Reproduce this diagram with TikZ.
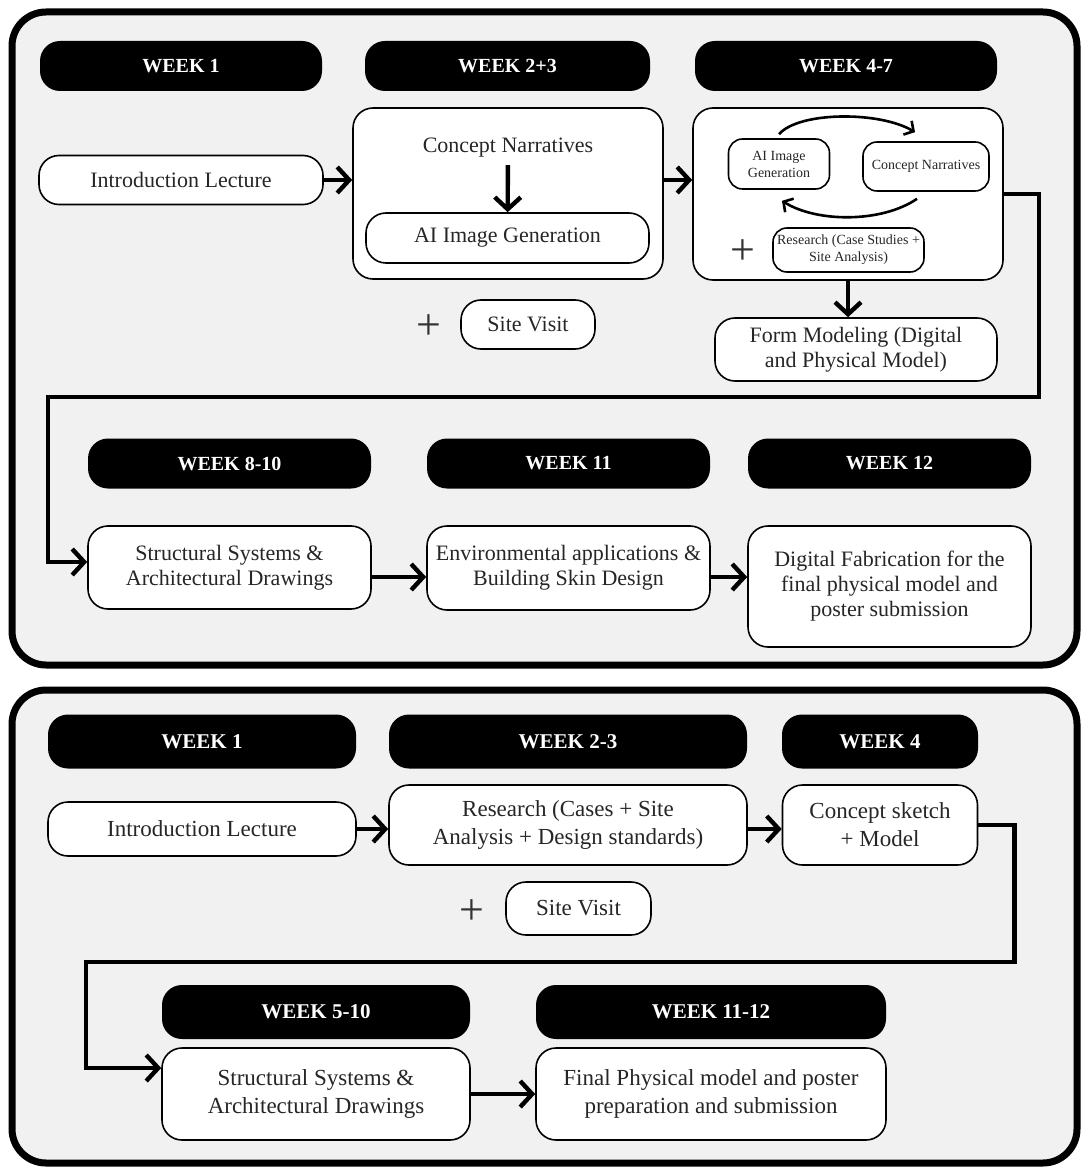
\documentclass[tikz,border=0pt]{standalone}
\usepackage{fontspec}
\setmainfont{Liberation Serif}
\usetikzlibrary{arrows.meta}

\begin{document}
\begin{tikzpicture}[x=0.5pt,y=-0.5pt,line width=.8pt,
	panel/.style={line width=3.5pt,rounded corners=17pt,fill=gray!11},
	week/.style={fill=black,text=white,rounded corners=10pt,inner sep=0pt,minimum height=25pt,font=\fontsize{10}{12}\selectfont\bfseries},
	weekL/.style={week,minimum height=27pt,font=\fontsize{10.5}{12}\selectfont\bfseries},
	stepbox/.style={draw,fill=white,rounded corners=10pt,align=center,inner sep=0pt,text=black!85,font=\fontsize{11}{12.5}\selectfont},
	stepboxL/.style={stepbox,font=\fontsize{11.5}{14}\selectfont},
	mini/.style={stepbox,rounded corners=7pt,font=\fontsize{7}{8.5}\selectfont},
	plussign/.style={text=black!80,font=\fontsize{22}{22}\selectfont},
	link/.style={line width=2.2pt,-{Straight Barb[length=6pt,width=13pt]}},
	swirl/.style={line width=1.3pt,-{Straight Barb[length=3.5pt,width=8pt]}}]
		\useasboundingbox (0,0) rectangle (1087,1171);
		\draw[panel] (12,12) rectangle (1077,665);
		\draw[panel] (12,690) rectangle (1077,1163);
		\coordinate (lvl1) at (0,562);
		\coordinate (lvl2) at (0,577);
		\coordinate (lvl3) at (0,1068);

		\node[week,minimum width=141pt] (wk1) at (181,66) {WEEK 1};
		\node[week,minimum width=142.5pt] (wk23) at (507.5,66) {WEEK 2+3};
		\node[week,minimum width=151pt] (wk47) at (846,66) {WEEK 4-7};
		\node[stepbox,minimum width=142pt,minimum height=24.5pt] (intro1) at (181,180) {Introduction Lecture};
		\node[stepbox,minimum width=155pt,minimum height=85.5pt] (box23) at (508,193.5) {};
		\node[text=black!85,font=\fontsize{11}{12.5}\selectfont] (narr1) at (508,148) {Concept Narratives};
		\node[stepbox,minimum width=141.5pt,minimum height=25pt] (aigen1) at (507.5,238) {AI Image Generation};
		\node[stepbox,minimum width=67pt,minimum height=24.5pt] (site1) at (528,324.5) {Site Visit};
		\node[plussign] (plus1) at (429,327) {+};
		\node[stepbox,minimum width=155pt,minimum height=86pt] (box47) at (848,194) {};
		\node[mini,minimum width=50.5pt,minimum height=25pt] (aigen2) at (779,164) {AI Image\\Generation};
		\node[mini,minimum width=63pt,minimum height=24.5pt] (narr2) at (926,166.5) {Concept Narratives};
		\node[mini,minimum width=75.5pt,minimum height=22pt] (research1) at (848.5,250) {Research (Case Studies +\\Site Analysis)};
		\node[plussign] (plus2) at (743,252) {+};
		\node[stepbox,minimum width=141pt,minimum height=31.5pt] (form1) at (856,349.5) {Form Modeling (Digital\\and Physical Model)};

		\node[week,minimum width=141.5pt] (wk810) at (229.5,463.5) {WEEK 8-10};
		\node[week,minimum width=141.5pt] (wk11) at (568.5,463.5) {WEEK 11};
		\node[week,minimum width=141.5pt] (wk12) at (889.5,463.5) {WEEK 12};
		\node[stepbox,minimum width=141.5pt,minimum height=41.5pt] (struct1) at (229.5,567.5) {Structural Systems \&\\Architectural Drawings};
		\node[stepbox,minimum width=141.5pt,minimum height=42pt] (env1) at (568.5,568) {Environmental applications \&\\Building Skin Design};
		\node[stepbox,minimum width=141.5pt,minimum height=60.5pt] (fab1) at (889.5,586.5) {Digital Fabrication for the\\final physical model and\\poster submission};

		\draw[link] (intro1.east) -- (intro1.east -| box23.west);
		\draw[link] (box23.east |- intro1) -- (box47.west |- intro1);
		\draw[link] (narr1) -- (aigen1);
		\draw[swirl] ([yshift=2pt]aigen2.north) .. controls +(20,-23) and +(-35,-21) .. ([xshift=-5.5pt,yshift=4.5pt]narr2.north);
		\draw[swirl] ([xshift=-4.5pt,yshift=-3.5pt]narr2.south) .. controls +(-35,24) and +(35,22) .. ([xshift=1.5pt,yshift=-5.5pt]aigen2.south);
		\draw[link] (box47.south) -- (box47.south |- form1.north);
		\draw[link] (box47.east) -- ++(35,0) |- (48,397) |- (struct1.west |- lvl1);
		\draw[link] (struct1.east |- lvl2) -- (env1.west |- lvl2);
		\draw[link] (env1.east |- lvl2) -- (fab1.west |- lvl2);

		\node[weekL,minimum width=154pt] (wkb1) at (202,741.5) {WEEK 1};
		\node[weekL,minimum width=179pt] (wkb23) at (568,741.5) {WEEK 2-3};
		\node[weekL,minimum width=98pt] (wkb4) at (880,741.5) {WEEK 4};
		\node[stepboxL,minimum width=154pt,minimum height=27pt] (intro2) at (202,829) {Introduction Lecture};
		\node[stepboxL,minimum width=179pt,minimum height=40pt] (research2) at (568,825) {Research (Cases + Site\\Analysis + Design standards)};
		\node[stepboxL,minimum width=97.5pt,minimum height=40pt] (sketch2) at (880,825) {Concept sketch\\+ Model};
		\node[stepboxL,minimum width=72.5pt,minimum height=26.5pt] (site2) at (578.5,908.5) {Site Visit};
		\node[plussign] (plus3) at (472,912) {+};
		\node[weekL,minimum width=154pt] (wk510) at (316,1012) {WEEK 5-10};
		\node[weekL,minimum width=175pt] (wk1112) at (711,1012) {WEEK 11-12};
		\node[stepboxL,minimum width=154pt,minimum height=46pt] (struct2) at (316,1094) {Structural Systems \&\\Architectural Drawings};
		\node[stepboxL,minimum width=175pt,minimum height=46pt] (final2) at (711,1094) {Final Physical model and poster\\preparation and submission};

		\draw[link] (intro2.east) -- (intro2.east -| research2.west);
		\draw[link] (research2.east |- intro2) -- (sketch2.west |- intro2);
		\draw[link] (sketch2.east) -- ++(36,0) |- (86,962) |- (struct2.west |- lvl3);
		\draw[link] (struct2.east) -- (final2.west);
	\end{tikzpicture}
\end{document}
